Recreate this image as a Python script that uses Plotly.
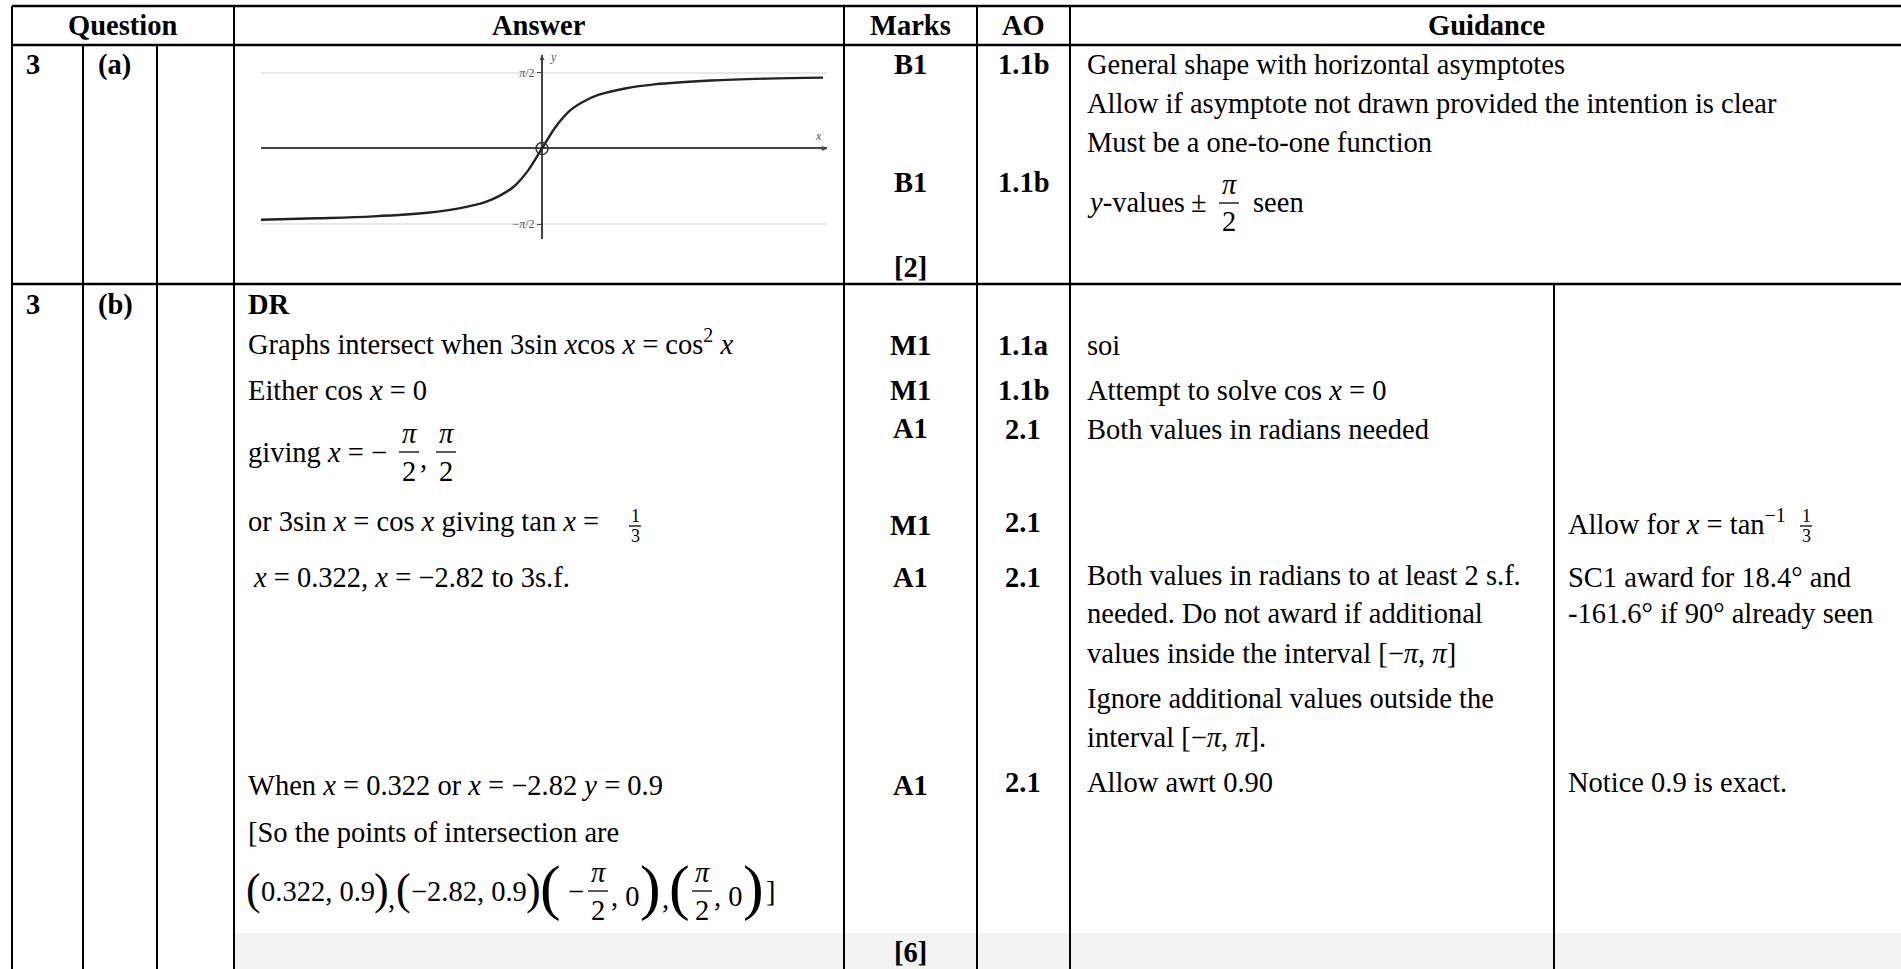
import plotly.graph_objects as go

# part (a) sketch: y = arctan x
curve_x = [-10, -8, -6, -4, -3, -2, -1.5, -1, -0.5, 0, 0.5, 1, 1.5, 2, 3, 4, 6, 8, 10]
curve_y = [-1.48, -1.45, -1.41, -1.33, -1.25, -1.11, -0.98, -0.79, -0.46, 0,
           0.46, 0.79, 0.98, 1.11, 1.25, 1.33, 1.41, 1.45, 1.47]
asymptotes = [1.5708, -1.5708]
asymptote_labels = ["<i>π</i>/2", "−<i>π</i>/2"]
origin_x = [0]
origin_y = [0]

headers = ["Question", "Answer", "Marks", "AO", "Guidance"]
marks_a = ["B1", "B1", "[2]"]
ao_a = ["1.1b", "1.1b"]
guidance_a = ["General shape with horizontal asymptotes",
              "Allow if asymptote not drawn provided the intention is clear",
              "Must be a one-to-one function"]
marks_b = ["M1", "M1", "A1", "M1", "A1", "A1", "[6]"]
ao_b = ["1.1a", "1.1b", "2.1", "2.1", "2.1", "2.1"]
guidance_b = ["soi", "Attempt to solve cos <i>x</i> = 0", "Both values in radians needed",
              "Both values in radians to at least 2 s.f.",
              "needed. Do not award if additional",
              "values inside the interval [−<i>π</i>, <i>π</i>]",
              "Ignore additional values outside the",
              "interval [−<i>π</i>, <i>π</i>].",
              "Allow awrt 0.90"]
notes_b = ["SC1 award for 18.4° and", "-161.6° if 90° already seen", "Notice 0.9 is exact."]

W, H = 1901, 969
FONT = "Liberation Serif, Times New Roman, serif"
FS = 28.5


def X(px):
    return px / W


def Y(py):
    return 1 - py / H


ann = []
shapes = []


def txt(x, y, s, size=FS, bold=False, anchor="left", color="black"):
    if bold:
        s = "<b>" + s + "</b>"
    ann.append(dict(x=X(x), y=Y(y), xref="paper", yref="paper", text=s, showarrow=False,
                    xanchor=anchor, yanchor="middle", borderpad=0,
                    font=dict(family=FONT, size=size, color=color)))


def line(x0, y0, x1, y1, w=2, color="black"):
    shapes.append(dict(type="line", xref="paper", yref="paper", x0=X(x0), y0=Y(y0),
                       x1=X(x1), y1=Y(y1), line=dict(color=color, width=w)))


def frac(xc, yc, num, den, size=FS, half=10, gap=19):
    txt(xc, yc - gap, num, size=size, anchor="center")
    txt(xc, yc + gap, den, size=size, anchor="center")
    line(xc - half, yc, xc + half, yc, w=1.3)


# grey strip at the foot of part (b)
shapes.append(dict(type="rect", xref="paper", yref="paper", x0=X(234), x1=1, y0=0, y1=Y(933),
                   fillcolor="#f2f2f2", line=dict(width=0), layer="below"))

# table rules
for yy in [6, 45, 284]:
    line(12, yy, W, yy, w=2.5)
for xx in [12, 234, 844, 977, 1070]:
    line(xx, 6, xx, H, w=2)
for xx in [83, 157]:
    line(xx, 45, xx, H, w=2)
line(1554, 284, 1554, H, w=2)

# header
for h, xc in zip(headers, [123, 539, 910, 1023, 1486]):
    txt(xc, 25, h, bold=True, anchor="center")

# part (a)
txt(25, 65, "3", bold=True)
txt(97, 65, "(a)", bold=True)
for m, yy in zip(marks_a, [65, 182, 267]):
    txt(910, yy, m, bold=True, anchor="center")
for a, yy in zip(ao_a, [65, 182]):
    txt(1023, yy, a, bold=True, anchor="center")
for g, yy in zip(guidance_a, [65, 103, 142]):
    txt(1086, yy, g)
txt(1086, 202, "<i>y</i>-values")
txt(1190, 202, "±")
frac(1229, 203, "<i>π</i>", "2")
txt(1252, 202, "seen")

# part (b)
txt(25, 305, "3", bold=True)
txt(97, 305, "(b)", bold=True)
txt(247, 305, "DR", bold=True)
txt(247, 342, "Graphs intersect when 3sin <i>x</i>cos <i>x</i> = cos<sup>2</sup> <i>x</i>")
txt(247, 390, "Either cos <i>x</i> = 0")
txt(247, 452, "giving <i>x</i> = −")
frac(409, 452, "<i>π</i>", "2")
txt(419, 459, ",")
frac(446, 452, "<i>π</i>", "2")
txt(247, 521, "or 3sin <i>x</i> = cos <i>x</i> giving tan <i>x</i> =")
frac(635, 526, "1", "3", size=18, half=6, gap=10)
txt(252, 577, "<i>x</i> = 0.322, <i>x</i> = −2.82 to 3s.f.")
txt(247, 785, "When <i>x</i> = 0.322 or <i>x</i> = −2.82 <i>y</i> = 0.9")
txt(247, 832, "[So the points of intersection are")

# the four intersection points
txt(253, 889, "(", size=44, anchor="center")
txt(260, 891, "0.322, 0.9")
txt(381, 889, ")", size=44, anchor="center")
txt(387, 898, ",")
txt(403, 889, "(", size=44, anchor="center")
txt(410, 891, "−2.82, 0.9")
txt(533, 889, ")", size=44, anchor="center")
txt(550, 887, "(", size=62, anchor="center")
txt(576, 891, "−", anchor="center")
frac(598, 891, "<i>π</i>", "2")
txt(610, 896, ", 0")
txt(650, 887, ")", size=62, anchor="center")
txt(661, 898, ",")
txt(679, 887, "(", size=62, anchor="center")
frac(702, 891, "<i>π</i>", "2")
txt(713, 896, ", 0")
txt(753, 887, ")", size=62, anchor="center")
txt(765, 891, "]")

for m, yy in zip(marks_b, [345, 390, 428, 525, 577, 785, 952]):
    txt(910, yy, m, bold=True, anchor="center")
for a, yy in zip(ao_b, [345, 390, 430, 522, 577, 782]):
    txt(1023, yy, a, bold=True, anchor="center")
for g, yy in zip(guidance_b, [345, 390, 430, 575, 613, 653, 698, 737, 782]):
    txt(1086, yy, g)
txt(1567, 522, "Allow for <i>x</i> = tan<sup>−1</sup>")
frac(1806, 526, "1", "3", size=18, half=6, gap=10)
for n, yy in zip(notes_b, [577, 613, 782]):
    txt(1567, yy, n)

fig = go.Figure()
fig.add_trace(go.Scatter(x=curve_x, y=curve_y, mode="lines", xaxis="x2", yaxis="y2",
                         line=dict(color="#222", width=2.4, shape="spline"),
                         showlegend=False, hoverinfo="skip"))
fig.add_trace(go.Scatter(x=origin_x, y=origin_y, mode="markers", xaxis="x2", yaxis="y2",
                         marker=dict(symbol="circle-open", size=12, color="#333",
                                     line=dict(width=1.5)),
                         showlegend=False, hoverinfo="skip"))

# axis arrows and labels of the small graph
ann.append(dict(x=0, y=1.94, xref="x2", yref="y2", ax=0, ay=9, text="", showarrow=True,
                arrowhead=2, arrowsize=0.7, arrowwidth=1.4, arrowcolor="#444"))
ann.append(dict(x=10.14, y=0, xref="x2", yref="y2", ax=-9, ay=0, text="", showarrow=True,
                arrowhead=2, arrowsize=0.7, arrowwidth=1.4, arrowcolor="#444"))
ann.append(dict(x=0.2, y=1.9, xref="x2", yref="y2", text="<i>y</i>", showarrow=False,
                xanchor="left", font=dict(family=FONT, size=12, color="#555")))
ann.append(dict(x=9.85, y=0.08, xref="x2", yref="y2", text="<i>x</i>", showarrow=False,
                yanchor="bottom", font=dict(family=FONT, size=12, color="#555")))

fig.update_layout(
    width=W, height=H, autosize=False,
    margin=dict(l=0, r=0, t=0, b=0),
    paper_bgcolor="white", plot_bgcolor="rgba(0,0,0,0)",
    showlegend=False,
    xaxis=dict(visible=False),
    yaxis=dict(visible=False),
    xaxis2=dict(domain=[X(261), X(827)], range=[-10, 10.14], anchor="y2",
                showticklabels=False, ticks="", showgrid=False, showline=False,
                zeroline=True, zerolinecolor="#444", zerolinewidth=1.5, fixedrange=True),
    yaxis2=dict(domain=[Y(239), Y(55)], range=[-1.88, 1.94], anchor="free", position=X(542),
                tickvals=asymptotes, ticktext=asymptote_labels, ticks="outside", ticklen=5,
                tickcolor="#444", tickwidth=1.3,
                tickfont=dict(family=FONT, size=12, color="#555"),
                showgrid=True, gridcolor="#e8e8e8", gridwidth=2, showline=False,
                zeroline=True, zerolinecolor="#444", zerolinewidth=1.5, fixedrange=True),
    annotations=ann,
    shapes=shapes,
)

# page body has an 8px default margin; drop it so the figure fills the window
fig.write_html("out.html", config={"displayModeBar": False},
               post_script="document.body.style.margin = '0';")
